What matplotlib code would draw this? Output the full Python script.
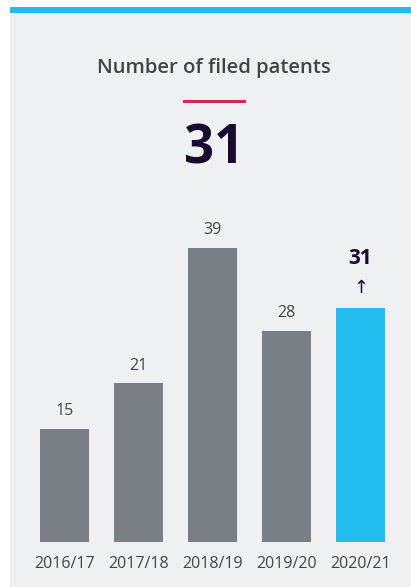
import matplotlib
matplotlib.use("Agg")
import matplotlib.pyplot as plt
from matplotlib.patches import Rectangle

categories = ["2016/17", "2017/18", "2018/19", "2019/20", "2020/21"]
values = [15, 21, 39, 28, 31]
title = "Number of filed patents"
headline = "31"

W, H = 411, 587
fig = plt.figure(figsize=(W / 100, H / 100), dpi=100)
fig.patch.set_facecolor("white")

FONT = ["Open Sans", "DejaVu Sans"]
plt.rcParams["font.family"] = FONT

def fx(px):
    return px / W

def fy(py):
    return 1 - py / H

# panel background
fig.add_artist(Rectangle((fx(10), 0), 1 - fx(10), fy(13), transform=fig.transFigure,
                         facecolor="#eff0f2", edgecolor="none", zorder=0))
# top blue band
fig.add_artist(Rectangle((fx(10), fy(13)), 1 - fx(10), fy(7) - fy(13), transform=fig.transFigure,
                         facecolor="#22bdee", edgecolor="none", zorder=0))

fig.text(fx(214), fy(68), title, ha="center", va="center", fontsize=14.6,
         fontweight="semibold", color="#444444")
fig.add_artist(plt.Line2D([fx(184), fx(244)], [fy(101), fy(101)], transform=fig.transFigure,
                          color="#d6275a", linewidth=2.2))
fig.text(fx(214), fy(149), headline, ha="center", va="center", fontsize=38,
         fontweight="bold", color="#160a2e")

# axes
px_per_unit = 7.55
ax_left, ax_right = 27.5, 397.5
ax_bottom, ax_top = 542, 200
ax = fig.add_axes([fx(ax_left), fy(ax_bottom), fx(ax_right - ax_left), (ax_bottom - ax_top) / H])
ax.set_facecolor("none")
ax.set_xlim(-0.5, len(categories) - 0.5)
ax.set_ylim(0, (ax_bottom - ax_top) / px_per_unit)

colors = ["#7a7f85"] * (len(values) - 1) + ["#22bdee"]
x = list(range(len(categories)))
ax.bar(x, values, width=0.66, color=colors, zorder=2)

for i, v in enumerate(values[:-1]):
    ax.annotate(str(v), (i, v), xytext=(0, 7), textcoords="offset points",
                ha="center", va="bottom", fontsize=11.5, color="#444444")
last = len(values) - 1
ax.annotate("↑", (last, values[last]), xytext=(0, 8), textcoords="offset points",
            ha="center", va="bottom", fontsize=13, color="#160a2e", family=FONT)
ax.annotate(str(values[last]), (last, values[last]), xytext=(0, 28), textcoords="offset points",
            ha="center", va="bottom", fontsize=15, fontweight="bold", color="#160a2e")

ax.set_xticks(x)
ax.set_xticklabels(categories, fontsize=11.5, color="#444444")
ax.tick_params(axis="x", length=0, pad=10)
ax.set_yticks([])
for s in ax.spines.values():
    s.set_visible(False)

fig.savefig("out.png", dpi=100, facecolor=fig.get_facecolor())
